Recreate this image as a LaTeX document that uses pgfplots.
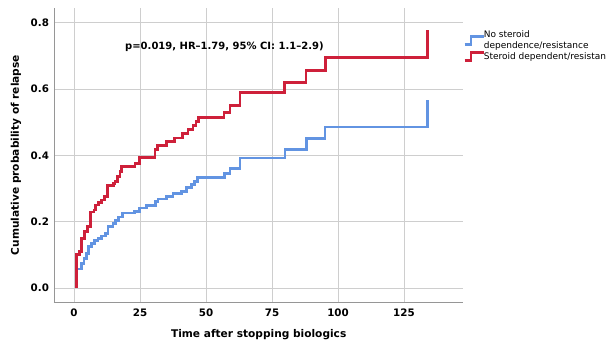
\documentclass[border=0pt]{standalone}
\usepackage{fontspec}
\setmainfont{DejaVu Sans}
\usepackage{pgfplots}
\pgfplotsset{compat=1.18}
\definecolor{kmred}{RGB}{206,32,58}
\definecolor{kmblue}{RGB}{98,148,226}
\definecolor{gridc}{RGB}{206,206,206}
\definecolor{axc}{RGB}{150,150,150}
\begin{document}
\begin{tikzpicture}[x=1pt,y=1pt]
\begin{axis}[
  at={(54pt,42pt)}, anchor=south west,
  scale only axis, width=409pt, height=294pt,
  xmin=-7.58, xmax=147.35, ymin=-0.0422, ymax=0.844,
  axis x line*=bottom, axis y line*=left,
  axis line style={axc, line width=0.8pt, -},
  xtick={0,25,50,75,100,125}, ytick={0,0.2,0.4,0.6,0.8},
  major tick length=0pt,
  grid=major, major grid style={gridc, line width=0.8pt},
  ticklabel style={font=\fontsize{10.3}{12}\selectfont\bfseries},
  /pgf/number format/assume math mode=true,
  yticklabel style={/pgf/number format/.cd, fixed, fixed zerofill, precision=1, /tikz/.cd, xshift=-1.5pt},
  xticklabel style={yshift=-3pt},
  xlabel={Time after stopping biologics},
  ylabel={Cumulative probability of relapse},
  label style={font=\fontsize{10.6}{12}\selectfont\bfseries},
  xlabel style={at={(axis description cs:0.5005,-0.112)}, anchor=center},
  ylabel style={at={(axis description cs:-0.0929,0.5)}, anchor=center},
  legend style={at={(0.9927,0.935)}, anchor=north west, draw=none, fill=none,
    font=\fontsize{9}{11.5}\selectfont, nodes={align=left, inner sep=1pt}, row sep=0pt, column sep=-2pt},
  legend cell align=left,
  legend image code/.code={\draw[#1, line width=2.6pt] (0pt,-4pt) -- (6.5pt,-4pt) -- (6.5pt,4pt) -- (19pt,4pt);},
]
\addplot[kmblue, line width=2.8pt, const plot, no markers] coordinates {
(0.8,0) (0.8,0.057) (2.8,0.075) (3.8,0.090) (4.7,0.103) (5.6,0.125) (6.6,0.135)
(7.9,0.142) (9.1,0.150) (10.4,0.157) (11.9,0.165) (12.9,0.185) (14.8,0.194)
(15.8,0.204) (17.0,0.214) (18.3,0.226) (22.9,0.231) (24.9,0.241) (27.4,0.248)
(30.8,0.261) (31.8,0.268) (34.9,0.275) (37.5,0.284) (40.6,0.292) (42.5,0.302)
(44.4,0.313) (45.7,0.322) (46.9,0.333) (56.9,0.346) (59.1,0.361) (62.9,0.392)
(79.9,0.417) (88.1,0.450) (95.1,0.485) (134.0,0.567)
};
\addlegendentry{No steroid\\dependence/resistance}
\addplot[kmred, line width=2.8pt, const plot, no markers] coordinates {
(0.8,0) (0.8,0.100) (2.0,0.110) (2.9,0.150) (4.1,0.170) (5.0,0.186) (6.1,0.229)
(7.6,0.235) (8.0,0.250) (9.2,0.257) (10.5,0.265) (11.7,0.276) (12.6,0.310)
(14.9,0.315) (15.5,0.322) (16.4,0.335) (17.4,0.350) (18.1,0.366) (23.1,0.376)
(24.7,0.393) (30.7,0.418) (31.6,0.430) (35.0,0.442) (38.1,0.452) (41.2,0.465)
(43.2,0.477) (45.1,0.490) (46.2,0.502) (47.2,0.515) (56.8,0.530) (59.1,0.550)
(62.9,0.590) (79.7,0.620) (87.9,0.655) (95.2,0.695) (133.8,0.778)
};
\addlegendentry{Steroid dependent/resistance}
\node[anchor=west, font=\fontsize{10}{12}\selectfont\bfseries, inner sep=0pt]
  at (rel axis cs:0.1736,0.867) {p=0.019, HR–1.79, 95\% CI: 1.1–2.9)};
\end{axis}
\pgfresetboundingbox
\path[use as bounding box] (0,0) rectangle (606,344);
\end{tikzpicture}
\end{document}
